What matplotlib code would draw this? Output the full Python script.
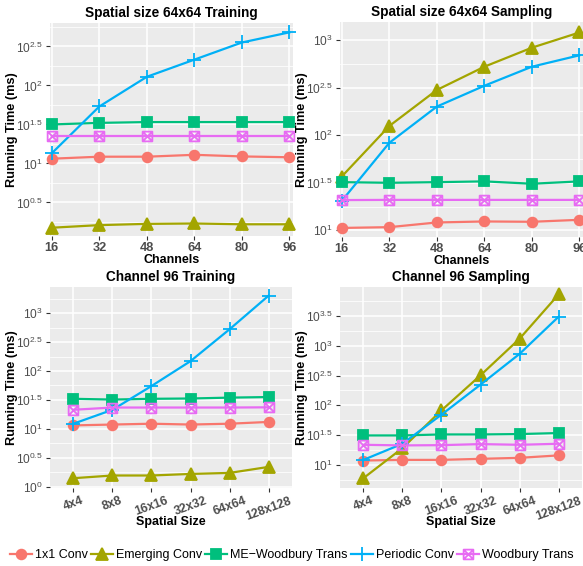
import matplotlib
matplotlib.use("Agg")
import matplotlib.pyplot as plt
import numpy as np
from matplotlib.path import Path
from matplotlib.ticker import FixedLocator, FixedFormatter, NullFormatter

plt.rcParams['font.family'] = ['Liberation Sans', 'DejaVu Sans']
plt.rcParams['mathtext.fontset'] = 'custom'
plt.rcParams['mathtext.rm'] = 'Liberation Sans'
plt.rcParams['mathtext.it'] = 'Liberation Sans'
plt.rcParams['mathtext.default'] = 'regular'

# ---------------- data (running time, ms) ----------------
series_names = ["1x1 Conv", "Emerging Conv", "ME\u2212Woodbury Trans", "Periodic Conv", "Woodbury Trans"]
channels = [16, 32, 48, 64, 80, 96]
spatial_sizes = ["4x4", "8x8", "16x16", "32x32", "64x64", "128x128"]

# Spatial size 64x64 Training
train64_conv1x1 = [11.5, 12.2, 12.2, 12.9, 12.3, 12.0]
train64_emerging = [1.50, 1.62, 1.68, 1.70, 1.66, 1.66]
train64_mewoodbury = [31.6, 33.1, 33.9, 33.9, 33.9, 33.9]
train64_periodic = [13.5, 53.7, 129, 214, 355, 479]
train64_woodbury = [22.4, 22.4, 22.4, 22.4, 22.4, 22.4]

# Spatial size 64x64 Sampling
samp64_conv1x1 = [10.6, 10.8, 12.1, 12.4, 12.3, 12.9]
samp64_emerging = [36.8, 125, 299, 525, 832, 1202]
samp64_mewoodbury = [32.1, 31.6, 32.1, 32.7, 30.9, 32.7]
samp64_periodic = [20.4, 83.2, 200, 331, 525, 692]
samp64_woodbury = [20.8, 20.9, 20.9, 20.9, 20.9, 20.9]

# Channel 96 Training
train96_conv1x1 = [11.5, 11.9, 12.3, 11.9, 12.3, 13.2]
train96_emerging = [1.41, 1.57, 1.57, 1.67, 1.74, 2.21]
train96_mewoodbury = [33.1, 32.1, 33.1, 33.5, 34.7, 35.5]
train96_periodic = [12.3, 21.4, 55.0, 148, 525, 1995]
train96_woodbury = [21.4, 23.4, 23.4, 23.4, 23.4, 23.6]

# Channel 96 Sampling
samp96_conv1x1 = [11.8, 12.1, 12.1, 12.6, 13.1, 14.4]
samp96_emerging = [5.96, 19.1, 82.4, 320, 1318, 7328]
samp96_mewoodbury = [31.2, 31.2, 32.4, 32.4, 32.9, 34.2]
samp96_periodic = [12.1, 22.6, 69.7, 223, 733, 3090]
samp96_woodbury = [21.7, 21.2, 21.4, 22.3, 21.7, 22.6]

titles = ["Spatial size 64x64 Training", "Spatial size 64x64 Sampling",
          "Channel 96 Training", "Channel 96 Sampling"]

# ---------------- styles ----------------
colors = ["#F8766D", "#A3A500", "#00BF7D", "#00B0F6", "#E76BF3"]
boxx = Path([(-1, -1), (1, -1), (1, 1), (-1, 1), (-1, -1),
             (-1, -1), (1, 1), (-1, 1), (1, -1)],
            [Path.MOVETO, Path.LINETO, Path.LINETO, Path.LINETO, Path.CLOSEPOLY,
             Path.MOVETO, Path.LINETO, Path.MOVETO, Path.LINETO])
markers = ["o", "^", "s", "+", boxx]
msizes = [7, 8, 7, 10, 7]

W, H = 583, 566
fig = plt.figure(figsize=(W / 100, H / 100), dpi=100)

def px_axes(l, t, r, b):
    return fig.add_axes([l / W, 1 - b / H, (r - l) / W, (b - t) / H])

ax1 = px_axes(50, 23, 293, 236)
ax2 = px_axes(340, 22, 583, 237)
ax3 = px_axes(50, 287, 292, 488)
ax4 = px_axes(340, 287, 582, 488)

panels = [
    (ax1, channels, [train64_conv1x1, train64_emerging, train64_mewoodbury, train64_periodic, train64_woodbury], (0.07, 2.80)),
    (ax2, channels, [samp64_conv1x1, samp64_emerging, samp64_mewoodbury, samp64_periodic, samp64_woodbury], (0.93, 3.19)),
    (ax3, spatial_sizes, [train96_conv1x1, train96_emerging, train96_mewoodbury, train96_periodic, train96_woodbury], (-0.02, 3.45)),
    (ax4, spatial_sizes, [samp96_conv1x1, samp96_emerging, samp96_mewoodbury, samp96_periodic, samp96_woodbury], (0.61, 3.99)),
]

handles = []
for i, (ax, xs, ys, (lo, hi)) in enumerate(panels):
    ax.set_facecolor("#EBEBEB")
    ax.set_yscale("log")
    categorical = isinstance(xs[0], str)
    xpos = np.arange(len(xs)) if categorical else np.array(xs)
    for j, yv in enumerate(ys):
        fill = 'none' if j == 4 else colors[j]
        h, = ax.plot(xpos, yv, color=colors[j], lw=1.6, marker=markers[j],
                     markersize=msizes[j], mfc=fill, mec=colors[j], mew=1.3,
                     clip_on=False, zorder=3)
        if i == 0:
            handles.append(h)
    # y ticks
    major = np.arange(np.ceil(lo * 2) / 2, hi + 1e-9, 0.5)
    minor = np.arange(np.ceil(lo * 4) / 4, hi + 1e-9, 0.25)
    minor = [m for m in minor if not np.any(np.isclose(m, major))]
    ax.set_ylim(10 ** lo, 10 ** hi)
    ax.yaxis.set_major_locator(FixedLocator(10 ** major))
    labs = [r"$10^{%s}$" % ("%g" % (round(m, 2) + 0.0)) for m in major]
    ax.yaxis.set_major_formatter(FixedFormatter(labs))
    ax.yaxis.set_minor_locator(FixedLocator(10 ** np.array(minor)))
    ax.yaxis.set_minor_formatter(NullFormatter())
    ax.grid(True, which="major", color="white", lw=1.1, zorder=0)
    ax.grid(True, which="minor", axis="y", color="white", lw=0.55, zorder=0)
    ax.set_axisbelow(True)
    for sp in ax.spines.values():
        sp.set_visible(False)
    ax.tick_params(axis="both", which="major", length=3, width=0.8, color="#333333",
                   labelcolor="#4D4D4D", pad=2)
    ax.tick_params(axis="y", which="major", labelsize=8.6)
    ax.tick_params(axis="y", which="minor", length=0)
    axh = ax.get_position().height * H
    if categorical:
        ax.set_xlim(-0.6, len(xs) - 0.4)
        ax.set_xticks(xpos)
        ax.set_xticklabels(xs, rotation=20, ha="center", fontweight="bold",
                           fontsize=8.8, color="#4D4D4D")
        ax.set_xlabel("Spatial Size", fontweight="bold", fontsize=9)
        ax.xaxis.set_label_coords(0.5, -34 / axh)
    else:
        ax.set_xlim(15.4, 97.2)
        ax.set_xticks(xs)
        ax.tick_params(axis="x", pad=1)
        ax.set_xticklabels([str(c) for c in xs], fontweight="bold",
                           fontsize=9.2, color="#4D4D4D")
        ax.set_xlabel("Channels", fontweight="bold", fontsize=9)
        ax.xaxis.set_label_coords(0.5, -24 / axh)
    ax.xaxis.label.set_va("center")
    ax.set_ylabel("Running Time (ms)", fontweight="bold", fontsize=9.2)
    ax.yaxis.set_label_coords(-38 / (ax.get_position().width * W), 0.5)
    ax.yaxis.label.set_va("center")
    ax.set_title(titles[i], fontweight="bold", fontsize=9.8, pad=4)

leg = fig.legend(handles, series_names, loc="center", bbox_to_anchor=(0.5, 11 / H),
                 ncol=5, frameon=False, fontsize=9, handlelength=1.8,
                 handletextpad=0.2, columnspacing=0.25, borderaxespad=0)

fig.savefig("out.png", dpi=100)
